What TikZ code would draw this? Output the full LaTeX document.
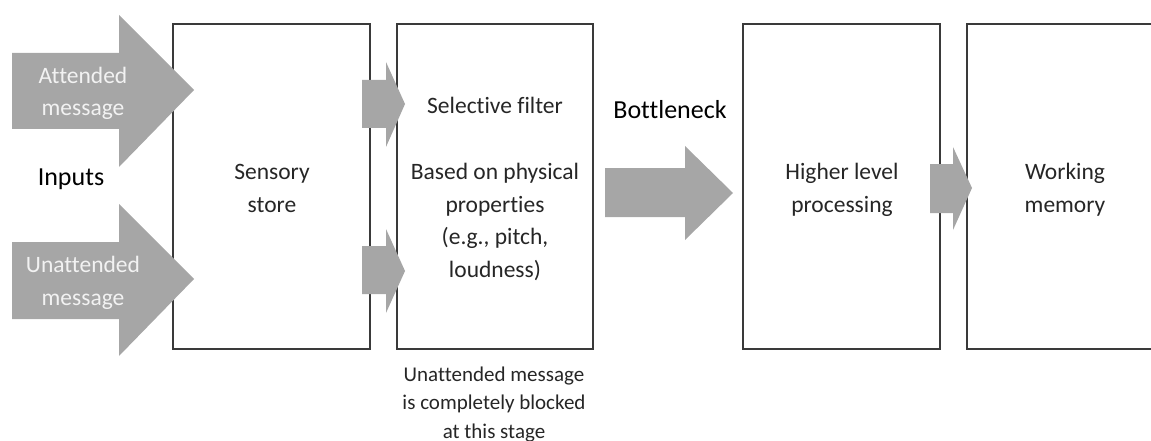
\documentclass[tikz,border=0pt]{standalone}
\usepackage{fontspec}
\setmainfont{Carlito}[RawFeature={-liga;-dlig}]
\definecolor{arrowgray}{HTML}{A6A6A6}
\definecolor{boxline}{HTML}{3A3A3A}
\definecolor{txt}{HTML}{262626}
\definecolor{arrtxt}{HTML}{F2F2F2}
\tikzset{
  stagebox/.style={draw=boxline, line width=1.3pt, fill=white},
  blockarrow/.style={fill=arrowgray, draw=none},
  maintext/.style={font=\fontsize{23.5}{32.5}\selectfont, text=txt, align=center, anchor=base, inner sep=0pt},
  arrowtext/.style={maintext, text=arrtxt},
  headtext/.style={font=\fontsize{26}{32}\selectfont, text=black, anchor=base, inner sep=0pt},
  notetext/.style={font=\fontsize{21}{28.5}\selectfont, text=txt, align=center, anchor=base, inner sep=0pt},
}
% #1 shaft left, #2 shaft top, #3 shaft bottom, #4 head base x, #5 head top, #6 head bottom, #7 tip x, #8 tip y
\newcommand{\blockarr}[8]{%
  \fill[blockarrow] (#1,#2) -- (#4,#2) -- (#4,#5) -- (#7,#8) -- (#4,#6) -- (#4,#3) -- (#1,#3) -- cycle;}
\begin{document}
\begin{tikzpicture}[x=1pt,y=-1pt]
\useasboundingbox (0,0) rectangle (1151,441);
\clip (0,0) rectangle (1151,441);
% boxes
\draw[stagebox] (173,24) rectangle (370,349);
\draw[stagebox] (397,24) rectangle (593,349);
\draw[stagebox] (743,24) rectangle (940,349);
\draw[stagebox] (967,24) rectangle (1160,349);
% input arrows
\blockarr{12}{53}{129}{119}{15}{167}{194}{90}
\blockarr{12}{242}{319}{119}{204}{356}{194}{279}
% small arrows into filter
\blockarr{362}{80}{128}{386}{62}{147}{405}{104}
\blockarr{362}{246}{294}{386}{229}{313}{405}{271}
% bottleneck arrow
\blockarr{605}{168}{217}{685}{146}{240}{733}{193}
% higher -> working
\blockarr{930}{164}{213}{953}{147}{230}{972}{188}
% texts (base anchor = baseline of last line)
\node[arrowtext] (att) at (83,116) {Attended\\message};
\node[arrowtext] (unatt) at (83,305) {Unattended\\message};
\node[headtext] (inputs) at (71,185) {Inputs};
\node[maintext] (sens) at (272,212) {Sensory\\store};
\node[maintext] (sel) at (495,114) {Selective filter};
\node[maintext] (based) at (495,277) {Based on physical\\properties\\(e.g., pitch,\\loudness)};
\node[headtext] (bottle) at (670,119) {Bottleneck};
\node[maintext] (hl) at (842,212) {Higher level\\processing};
\node[maintext] (wm) at (1065,212) {Working\\memory};
\node[notetext] (note) at (494,438) {Unattended message\\is completely blocked\\at this stage};
\end{tikzpicture}
\end{document}
